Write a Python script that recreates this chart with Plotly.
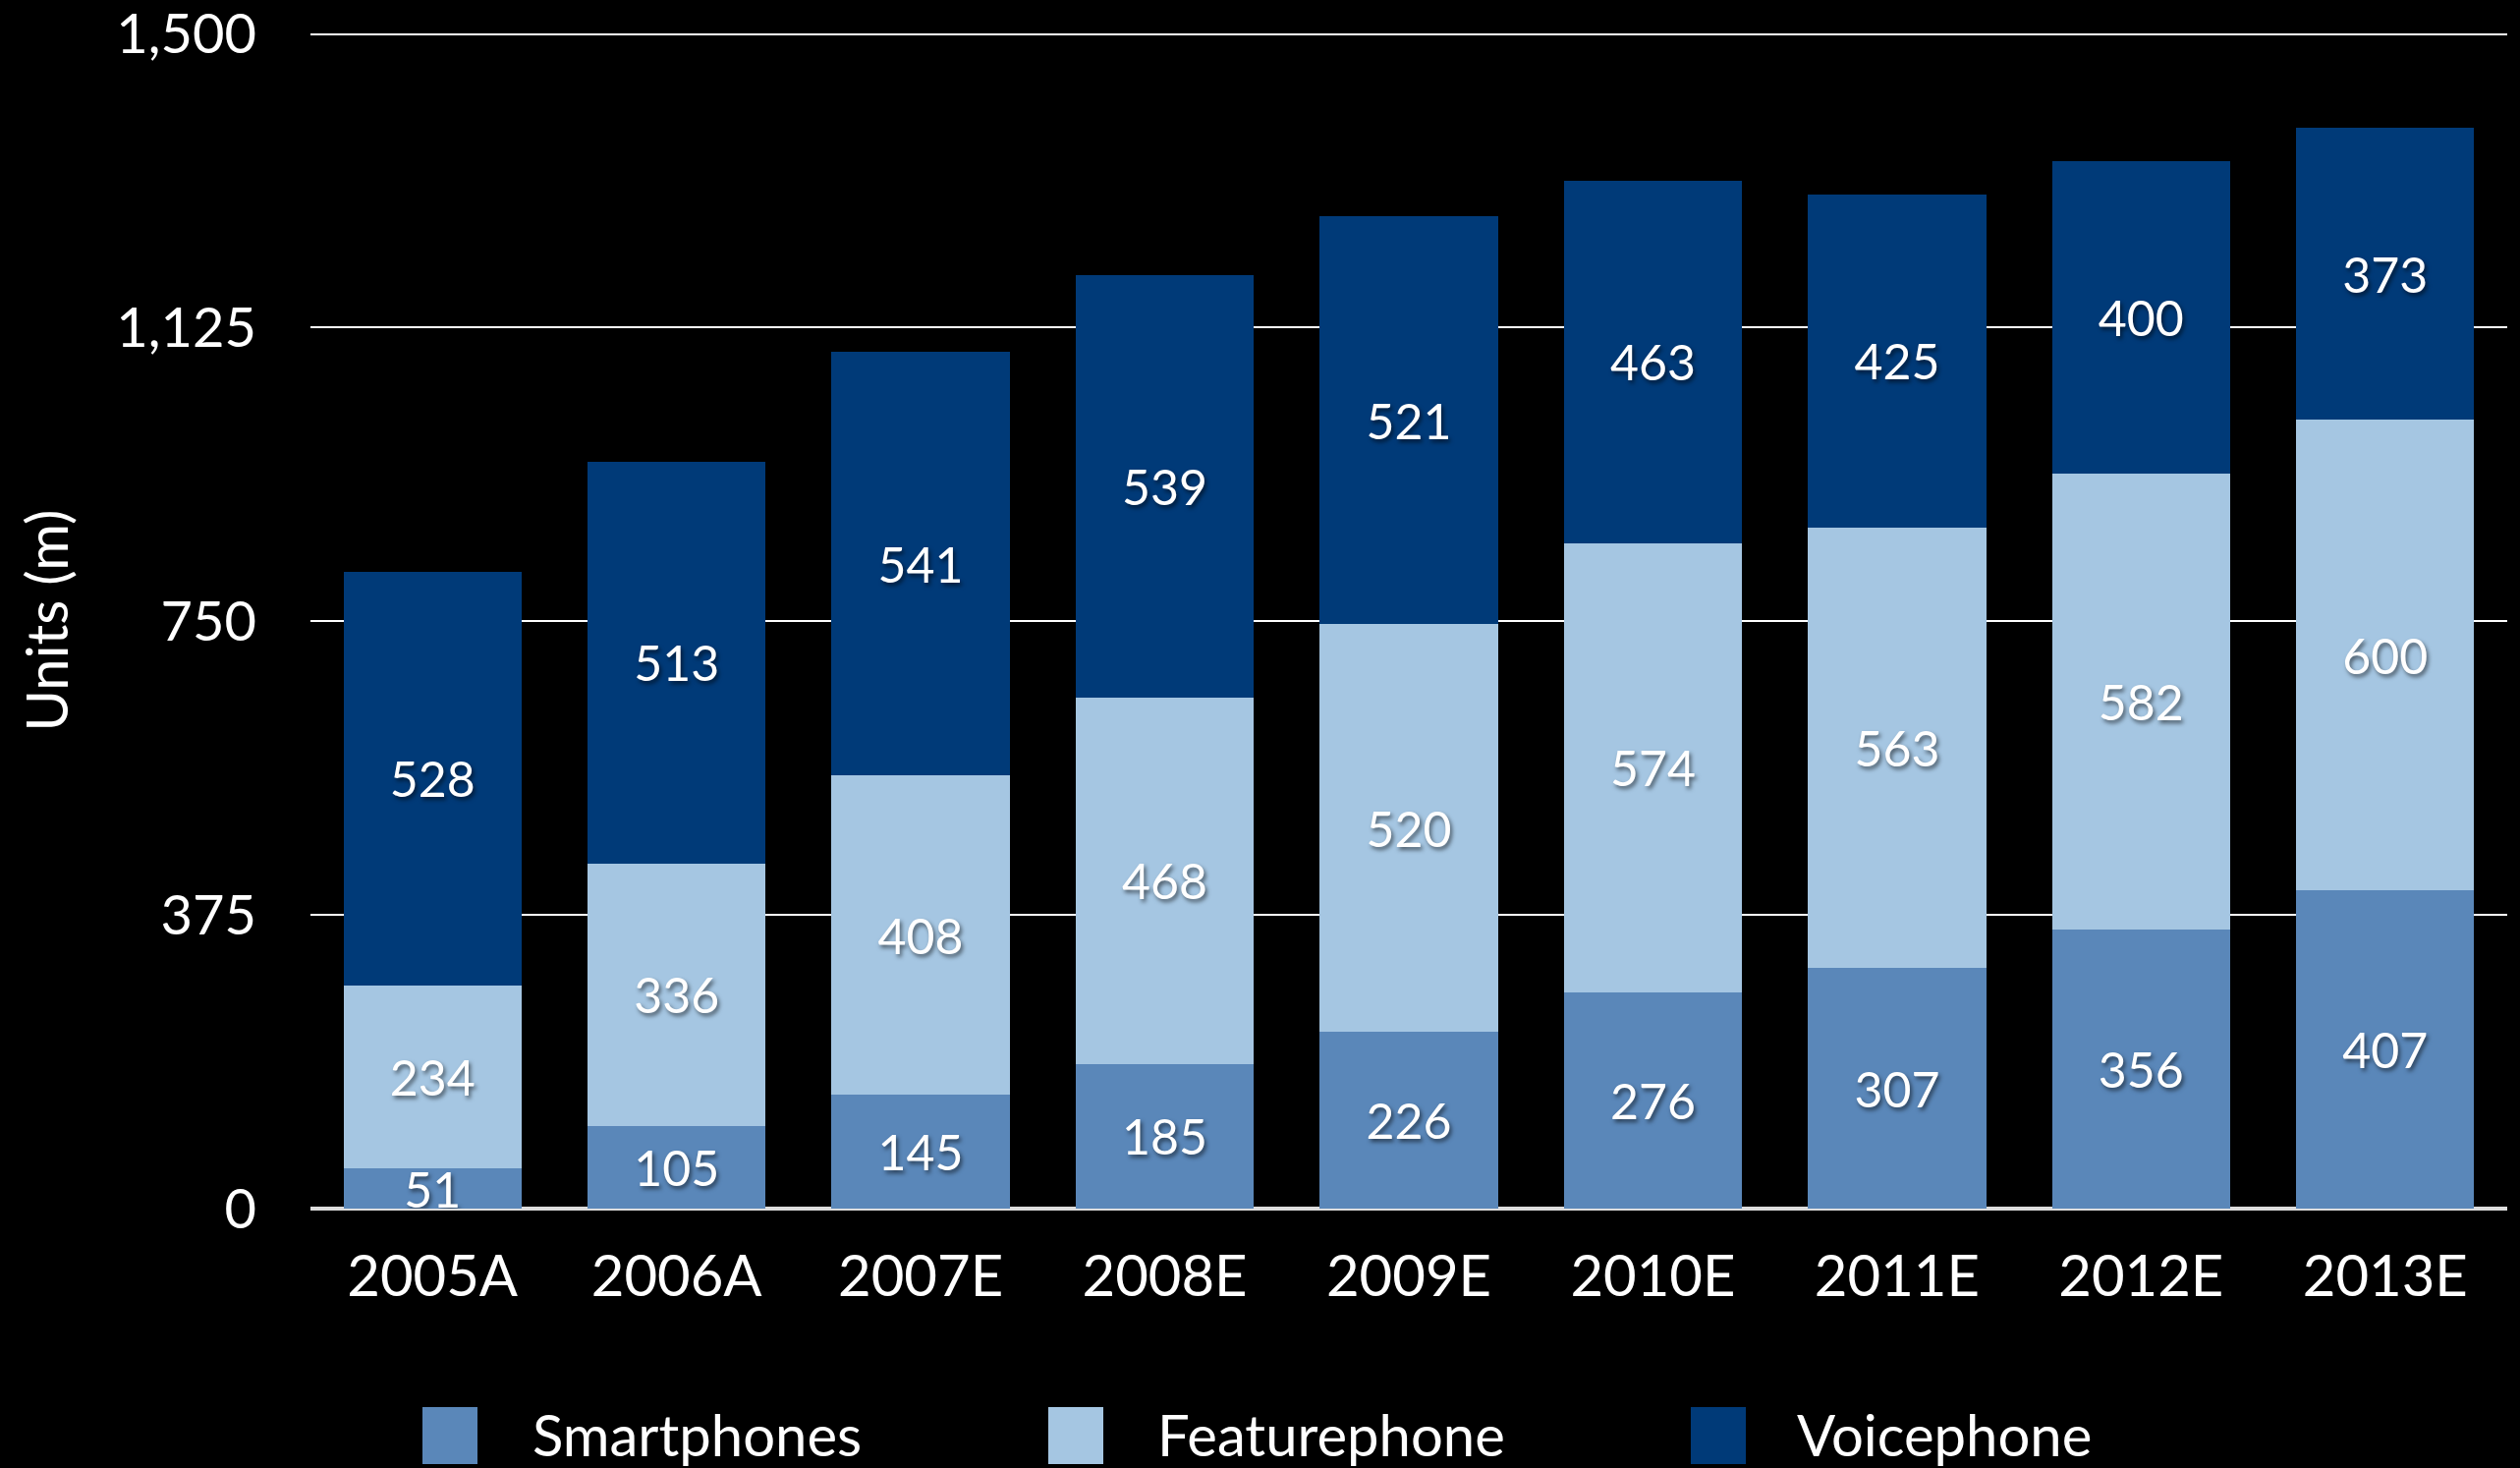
import plotly.graph_objects as go

categories = ["2005A", "2006A", "2007E", "2008E", "2009E", "2010E", "2011E", "2012E", "2013E"]
smartphones = [51, 105, 145, 185, 226, 276, 307, 356, 407]
featurephone = [234, 336, 408, 468, 520, 574, 563, 582, 600]
voicephone = [528, 513, 541, 539, 521, 463, 425, 400, 373]
series_names = ["Smartphones", "Featurephone", "Voicephone"]
y_tickvals = [0, 375, 750, 1125, 1500]
y_ticktext = ["0", "375", "750", "1,125", "1,500"]

colors = ["#5A87B9", "#A5C6E2", "#003A78"]
FONT = "Lato, 'Open Sans', sans-serif"
W, H = 2565, 1494
ML, MR, MT, MB = 316, 13, 33, 264
PW = W - ML - MR
PH = H - MT - MB

def px2paper_x(px):
    return (px - ML) / PW

def px2paper_y(py):
    return (H - MB - py) / PH

fig = go.Figure()
for name, vals, col in zip(series_names, [smartphones, featurephone, voicephone], colors):
    fig.add_trace(go.Bar(
        x=categories, y=vals, name=name,
        marker=dict(color=col, line=dict(width=0)),
        text=[str(v) for v in vals],
        textposition="inside", insidetextanchor="middle",
        constraintext="none", textangle=0,
        textfont=dict(family=FONT, size=50, color="white",
                      shadow="2px 3px 4px rgba(0,0,0,0.55)"),
        showlegend=False,
        hoverinfo="x+y+name",
    ))

# manual legend (swatches + labels)
legend_swatch_px = [430, 1067, 1721]
legend_text_px = [540, 1176, 1827]
shapes = []
annotations = []
for name, col, sx, tx in zip(series_names, colors, legend_swatch_px, legend_text_px):
    shapes.append(dict(type="rect", xref="paper", yref="paper",
                       x0=px2paper_x(sx), x1=px2paper_x(sx + 56),
                       y0=px2paper_y(1490), y1=px2paper_y(1432),
                       fillcolor=col, line=dict(width=0), layer="above"))
    annotations.append(dict(xref="paper", yref="paper",
                            x=px2paper_x(tx), y=px2paper_y(1459),
                            xanchor="left", yanchor="middle",
                            text=name, showarrow=False,
                            font=dict(family=FONT, size=58, color="white")))

fig.update_layout(
    barmode="stack",
    bargap=0.27,
    width=W, height=H,
    margin=dict(l=ML, r=MR, t=MT, b=MB, pad=0, autoexpand=False),
    paper_bgcolor="black",
    plot_bgcolor="black",
    font=dict(family=FONT, color="white"),
    shapes=shapes,
    annotations=annotations,
    xaxis=dict(
        showgrid=False, showline=False, ticks="",
        tickfont=dict(family=FONT, size=58, color="white"),
        ticklabelstandoff=30,
        automargin=False,
    ),
    yaxis=dict(
        range=[0, 1502],
        tickvals=y_tickvals, ticktext=y_ticktext,
        showgrid=True, gridcolor="white", gridwidth=2,
        zeroline=True, zerolinecolor="#dddddd", zerolinewidth=4,
        showline=False, ticks="",
        tickfont=dict(family=FONT, size=56, color="white"),
        ticklabelstandoff=54,
        ticklabeloverflow="allow",
        automargin=False,
        title=dict(text="Units (m)", font=dict(family=FONT, size=58, color="white"), standoff=30),
    ),
)

fig.write_html(
    "out.html",
    config={"displayModeBar": False},
    post_script="document.body.style.margin='0';document.body.style.padding='0';"
                "document.body.style.background='black';"
                "document.documentElement.style.background='black';",
)
